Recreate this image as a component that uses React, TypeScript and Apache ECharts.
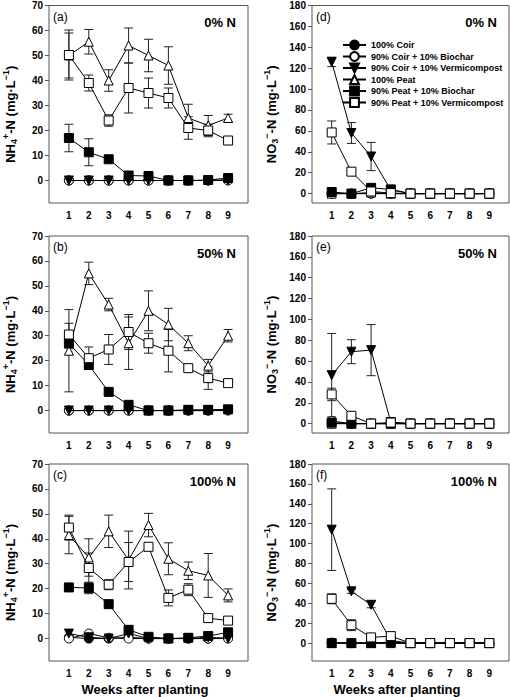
import React, { useEffect, useRef } from 'react';
import * as echarts from 'echarts';

const FONT = '"Liberation Sans", Arial, Helvetica, sans-serif';

const weeks = [1, 2, 3, 4, 5, 6, 7, 8, 9];
const seriesNames = [
  '100% Coir',
  '90% Coir + 10% Biochar',
  '90% Coir + 10% Vermicompost',
  '100% Peat',
  '90% Peat + 10% Biochar',
  '90% Peat + 10% Vermicompost',
];
const nh4Ticks = [0, 10, 20, 30, 40, 50, 60, 70];
const no3Ticks = [0, 20, 40, 60, 80, 100, 120, 140, 160, 180];

// (a) NH4+-N, 0% N
const a_coir = [0, 0, 0, 0, 0, 0, 0, 0, 0.3];
const a_coirBC = [0, 0, 0, 0, 0, 0, 0, 0, 0];
const a_coirVC = [0, 0, 0, 0, 0, 0, 0, 0, 0];
const a_peat = [50, 55.5, 40, 54, 50, 46, 25, 22, 25];
const a_peatBC = [17, 11.3, 8.5, 2, 1.8, 0, 0, 0.2, 1];
const a_peatVC = [50.2, 39, 24, 37, 35, 33, 21, 20, 16];
const a_peatSE = [9, 4.9, 4.3, 7, 6.5, 7.5, 5.5, 4, 1.5];
const a_peatBCSE = [5.5, 5.4, 0, 0, 0, 0, 0, 0, 0];
const a_peatVCSE = [10, 3.2, 2.3, 10, 6, 4, 4.5, 2.5, 0];

// (b) NH4+-N, 50% N
const b_coir = [0, 0, 0, 0, 0, 0, 0, 0, 0.3];
const b_coirBC = [0, 0, 0, 0, 0, 0, 0, 0, 0];
const b_coirVC = [0, 0, 0, 0, 0, 0, 0, 0, 0];
const b_peat = [24, 55, 42.5, 27, 40, 34.5, 27, 18, 30];
const b_peatBC = [27, 18.3, 7.5, 2.3, 0, 0, 0.3, 0.3, 0.5];
const b_peatVC = [30.5, 21, 24.5, 31.5, 27, 24, 17, 13, 11];
const b_peatSE = [16.5, 4.5, 2.5, 10.5, 8, 6.5, 3, 2.5, 2.5];
const b_peatBCSE = [2, 1, 0, 0, 0, 0, 0, 0, 0];
const b_peatVCSE = [4.5, 4.5, 6, 7, 4, 8.5, 0.5, 4.5, 0];

// (c) NH4+-N, 100% N
const c_coir = [0.5, 0, 0, 0.5, 0, 0, 0, 0, 0.3];
const c_coirBC = [0, 2, 0.3, 0, 0, 0, 0, 0, 0];
const c_coirVC = [2, 0.5, 0, 2, 0, 0, 0, 0.5, 0];
const c_peat = [41.5, 32.5, 43, 31.5, 45.5, 32, 27.2, 25.3, 17.3];
const c_peatBC = [20.5, 20.3, 13.8, 3.5, 0.7, 0, 0.3, 1, 2.5];
const c_peatVC = [44.5, 28.3, 21.6, 30.7, 36.8, 16.3, 19.6, 8.2, 7.2];
const c_peatSE = [7.5, 7.5, 6.5, 11.6, 4.7, 6.4, 3.5, 8.8, 2.6];
const c_peatBCSE = [1.5, 2.3, 0, 0, 0, 0, 0, 0, 0];
const c_peatVCSE = [5, 6, 2, 7.8, 0, 3.2, 2.4, 0, 0];

// (d) NO3--N, 0% N
const d_coir = [0, 0, 0, 0, 0, 0, 0, 0, 0];
const d_coirBC = [0, 0, 0, 0, 0, 0, 0, 0, 0];
const d_coirVC = [126, 58, 35.5, 3.5, 0, 0, 0, 0, 0];
const d_peat = [0, 0, 1, 0, 0, 0, 0, 0, 0];
const d_peatBC = [1.5, 0, 5.5, 4, 0, 0, 0, 0, 0];
const d_peatVC = [58.5, 21, 2, 0.5, 0, 0, 0, 0, 0];
const d_coirVCSE = [4.5, 10, 13.5, 0, 0, 0, 0, 0, 0];
const d_peatVCSE = [11, 3.5, 0, 0, 0, 0, 0, 0, 0];

// (e) NO3--N, 50% N
const e_coir = [0, 0, 0, 0, 0, 0, 0, 0, 0];
const e_coirBC = [2.5, 0, 0, 0, 0, 0, 0, 0, 0];
const e_coirVC = [46.5, 69, 70.5, 1.5, 0, 0, 0, 0, 0];
const e_peat = [0, 0, 0, 0, 0, 0, 0, 0, 0];
const e_peatBC = [1, 0, 0, 0, 0, 0, 0, 0, 0];
const e_peatVC = [28, 7.5, 0, 1, 0, 0, 0, 0, 0];
const e_coirVCSE = [40, 11.5, 24.5, 0, 0, 0, 0, 0, 0];
const e_peatVCSE = [6, 0, 0, 0, 0, 0, 0, 0, 0];

// (f) NO3--N, 100% N
const f_coir = [0.5, 0, 0, 0, 0, 0, 0, 0, 0];
const f_coirBC = [0, 0, 0, 0, 0, 0, 0, 0, 0];
const f_coirVC = [114, 52, 38.5, 2.5, 0, 0, 0, 0, 0];
const f_peat = [0, 0, 0, 0, 0, 0, 0, 0, 0];
const f_peatBC = [0, 0, 0, 1, 0, 0, 0, 0, 0];
const f_peatVC = [44.5, 18, 5.7, 7, 0, 0, 0, 0, 0];
const f_coirVCSE = [41, 2, 3, 0, 0, 0, 0, 0, 0];
const f_peatVCSE = [5, 5.5, 0, 0, 0, 0, 0, 0, 0];

const zeros = [0, 0, 0, 0, 0, 0, 0, 0, 0];

type Panel = {
  tag: string;
  nLabel: string;
  kind: 'nh4' | 'no3';
  L: number; T: number; W: number; H: number;
  yMin: number; yMax: number;
  values: number[][];
  ses: number[][];
  xTitle: boolean;
};

const panels: Panel[] = [
  { tag: '(a)', nLabel: '0% N', kind: 'nh4', L: 49, T: 5.5, W: 199, H: 197.5, yMin: -9, yMax: 70,
    values: [a_coir, a_coirBC, a_coirVC, a_peat, a_peatBC, a_peatVC],
    ses: [zeros, zeros, zeros, a_peatSE, a_peatBCSE, a_peatVCSE], xTitle: false },
  { tag: '(b)', nLabel: '50% N', kind: 'nh4', L: 49, T: 236, W: 199, H: 197, yMin: -9, yMax: 70,
    values: [b_coir, b_coirBC, b_coirVC, b_peat, b_peatBC, b_peatVC],
    ses: [zeros, zeros, zeros, b_peatSE, b_peatBCSE, b_peatVCSE], xTitle: false },
  { tag: '(c)', nLabel: '100% N', kind: 'nh4', L: 49, T: 464, W: 199, H: 197, yMin: -9, yMax: 70,
    values: [c_coir, c_coirBC, c_coirVC, c_peat, c_peatBC, c_peatVC],
    ses: [zeros, zeros, zeros, c_peatSE, c_peatBCSE, c_peatVCSE], xTitle: true },
  { tag: '(d)', nLabel: '0% N', kind: 'no3', L: 312, T: 5.5, W: 197, H: 197.5, yMin: -9, yMax: 180,
    values: [d_coir, d_coirBC, d_coirVC, d_peat, d_peatBC, d_peatVC],
    ses: [zeros, zeros, d_coirVCSE, zeros, zeros, d_peatVCSE], xTitle: false },
  { tag: '(e)', nLabel: '50% N', kind: 'no3', L: 312, T: 236, W: 197, H: 197, yMin: -9, yMax: 180,
    values: [e_coir, e_coirBC, e_coirVC, e_peat, e_peatBC, e_peatVC],
    ses: [zeros, zeros, e_coirVCSE, zeros, zeros, e_peatVCSE], xTitle: false },
  { tag: '(f)', nLabel: '100% N', kind: 'no3', L: 312, T: 464, W: 197, H: 197, yMin: -18, yMax: 180,
    values: [f_coir, f_coirBC, f_coirVC, f_peat, f_peatBC, f_peatVC],
    ses: [zeros, zeros, f_coirVCSE, zeros, zeros, f_peatVCSE], xTitle: true },
];

const DOWN_TRI = 'path://M0,0L10,0L5,9Z';
const symbolDefs = [
  { symbol: 'circle', fill: '#000' },
  { symbol: 'circle', fill: '#fff' },
  { symbol: DOWN_TRI, fill: '#000' },
  { symbol: 'triangle', fill: '#fff' },
  { symbol: 'rect', fill: '#000' },
  { symbol: 'rect', fill: '#fff' },
];

const AXIS_COLOR = '#555';

function buildOption() {
  const grid: any[] = [];
  const xAxis: any[] = [];
  const yAxis: any[] = [];
  const series: any[] = [];
  const graphic: any[] = [];

  panels.forEach((p, i) => {
    grid.push({ left: p.L, top: p.T, width: p.W, height: p.H, show: true, borderColor: AXIS_COLOR, borderWidth: 1, backgroundColor: 'transparent' });
    xAxis.push({
      gridIndex: i, type: 'value', min: 0, max: 10,
      axisLine: { show: false }, splitLine: { show: false },
      axisTick: { show: true, length: 4, customValues: weeks, lineStyle: { color: AXIS_COLOR } },
      axisLabel: { customValues: weeks, fontSize: 10, fontWeight: 'bold', fontFamily: FONT, color: '#000', margin: 7 },
    });
    const ticks = p.kind === 'nh4' ? nh4Ticks : no3Ticks;
    yAxis.push({
      gridIndex: i, type: 'value', min: p.yMin, max: p.yMax,
      axisLine: { show: false }, splitLine: { show: false },
      axisTick: { show: true, length: 4, customValues: ticks, lineStyle: { color: AXIS_COLOR } },
      axisLabel: { customValues: ticks, fontSize: 10, fontWeight: 'bold', fontFamily: FONT, color: '#000', margin: 6 },
    });

    // error bars
    p.values.forEach((vals, s) => {
      const se = p.ses[s];
      const errData: number[][] = [];
      weeks.forEach((w, k) => {
        if (se[k] > 0) errData.push([w, vals[k] - se[k], vals[k] + se[k]]);
      });
      if (errData.length) {
        series.push({
          type: 'custom', xAxisIndex: i, yAxisIndex: i, silent: true, z: 2,
          encode: { x: 0, y: [1, 2] },
          data: errData,
          renderItem: (params: any, api: any) => {
            const x = api.value(0), lo = api.value(1), hi = api.value(2);
            const p1 = api.coord([x, hi]);
            const p2 = api.coord([x, lo]);
            const w = 4.5;
            const style = { stroke: '#222', lineWidth: 1 };
            return {
              type: 'group',
              children: [
                { type: 'line', shape: { x1: p1[0], y1: p1[1], x2: p2[0], y2: p2[1] }, style },
                { type: 'line', shape: { x1: p1[0] - w, y1: p1[1], x2: p1[0] + w, y2: p1[1] }, style },
                { type: 'line', shape: { x1: p2[0] - w, y1: p2[1], x2: p2[0] + w, y2: p2[1] }, style },
              ],
            };
          },
        });
      }
    });

    p.values.forEach((vals, s) => {
      const def = symbolDefs[s];
      series.push({
        type: 'line', name: seriesNames[s], xAxisIndex: i, yAxisIndex: i, z: 3 + s,
        data: weeks.map((w, k) => [w, vals[k]]),
        symbol: def.symbol, symbolSize: 9, showSymbol: true,
        lineStyle: { color: '#000', width: 1 },
        itemStyle: { color: def.fill, borderColor: '#000', borderWidth: 1 },
        emphasis: { disabled: true },
      });
    });

    // panel tag and N label
    graphic.push({ type: 'text', x: p.L + 4, y: p.T + 11, style: { text: p.tag, fontSize: 12, fontFamily: FONT, fill: '#000', verticalAlign: 'middle', align: 'left' } });
    graphic.push({ type: 'text', x: p.L + p.W - 12, y: p.T + 17, style: { text: p.nLabel, fontSize: 13, fontWeight: 'bold', fontFamily: FONT, fill: '#000', verticalAlign: 'middle', align: 'right' } });

    // y title
    const titleText = p.kind === 'nh4'
      ? '{m|NH}{sub|4}{sup|+}{m|-N (mg·L}{sup|−1}{m|)}'
      : '{m|NO}{sub|3}{sup|−}{m|-N (mg·L}{sup|−1}{m|)}';
    const tx = p.kind === 'nh4' ? 10 : 271;
    graphic.push({
      type: 'text', x: tx, y: p.T + p.H / 2 + 10, rotation: Math.PI / 2,
      style: {
        text: titleText, align: 'center', verticalAlign: 'middle', fill: '#000',
        fontFamily: FONT, fontWeight: 'bold', fontSize: 13,
        rich: {
          m: { fontSize: 13, fontWeight: 'bold', fontFamily: FONT, fill: '#000', lineHeight: 17 },
          sub: { fontSize: 9, fontWeight: 'bold', fontFamily: FONT, fill: '#000', verticalAlign: 'bottom' },
          sup: { fontSize: 9, fontWeight: 'bold', fontFamily: FONT, fill: '#000', verticalAlign: 'top' },
        },
      },
    });

    if (p.xTitle) {
      const cx = p.kind === 'nh4' ? 145 : 397;
      graphic.push({ type: 'text', x: cx, y: 689, style: { text: 'Weeks after planting', fontSize: 13, fontWeight: 'bold', fontFamily: FONT, fill: '#000', align: 'center', verticalAlign: 'middle' } });
    }
  });

  return {
    animation: false,
    backgroundColor: '#fff',
    grid, xAxis, yAxis, series, graphic,
    legend: {
      show: true, data: seriesNames, orient: 'vertical', left: 342, top: 39.5,
      itemWidth: 23, itemHeight: 11, itemGap: 0.5, padding: 0, selectedMode: false,
      textStyle: { fontSize: 9, fontWeight: 'bold', fontFamily: FONT, color: '#000', lineHeight: 11 },
    },
  };
}

export default function App() {
  const ref = useRef<HTMLDivElement>(null);
  useEffect(() => {
    if (!ref.current) return;
    const chart = echarts.init(ref.current, undefined, { renderer: 'svg' });
    chart.setOption(buildOption() as any);
    return () => chart.dispose();
  }, []);
  return <div ref={ref} style={{ position: 'absolute', left: 0, top: 0, width: 510, height: 697 }} />;
}
